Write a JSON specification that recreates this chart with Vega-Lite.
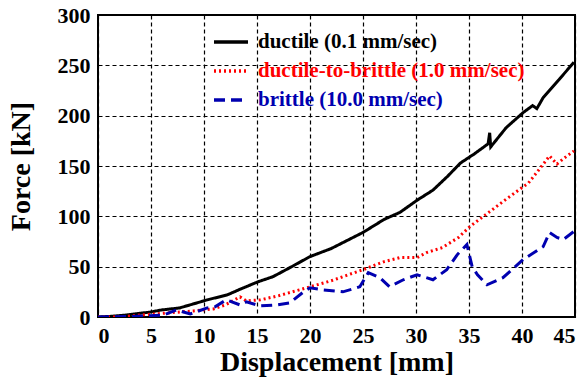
{
  "$schema": "https://vega.github.io/schema/vega-lite/v6.json",
  "width": 477,
  "height": 302,
  "autosize": "none",
  "padding": {"left": 98, "top": 15, "right": 13, "bottom": 63},
  "background": "white",
  "config": {
    "view": {"stroke": "black", "strokeWidth": 2},
    "font": "Liberation Serif",
    "axis": {
      "labelFont": "Liberation Serif", "labelFontWeight": "bold", "labelFontSize": 22, "labelColor": "black",
      "titleFont": "Liberation Serif", "titleFontWeight": "bold", "titleFontSize": 28, "titleColor": "black",
      "grid": true, "gridColor": "black", "gridDash": [4, 3], "gridWidth": 1.2, "gridOpacity": 1,
      "domain": false, "ticks": false
    },
    "legend": {"labelFont": "Liberation Serif", "labelFontWeight": "bold"}
  },
  "data": {"values": [
    {"s":"ductile (0.1 mm/sec)","i":0,"x":0,"y":0},
    {"s":"ductile (0.1 mm/sec)","i":1,"x":1,"y":0.5},
    {"s":"ductile (0.1 mm/sec)","i":2,"x":2.7,"y":2},
    {"s":"ductile (0.1 mm/sec)","i":3,"x":5,"y":5},
    {"s":"ductile (0.1 mm/sec)","i":4,"x":6,"y":7},
    {"s":"ductile (0.1 mm/sec)","i":5,"x":7.7,"y":9},
    {"s":"ductile (0.1 mm/sec)","i":6,"x":9,"y":13},
    {"s":"ductile (0.1 mm/sec)","i":7,"x":10.3,"y":17},
    {"s":"ductile (0.1 mm/sec)","i":8,"x":12.2,"y":22},
    {"s":"ductile (0.1 mm/sec)","i":9,"x":13.5,"y":28},
    {"s":"ductile (0.1 mm/sec)","i":10,"x":15.1,"y":35},
    {"s":"ductile (0.1 mm/sec)","i":11,"x":16.5,"y":40},
    {"s":"ductile (0.1 mm/sec)","i":12,"x":18.1,"y":49},
    {"s":"ductile (0.1 mm/sec)","i":13,"x":20,"y":60},
    {"s":"ductile (0.1 mm/sec)","i":14,"x":22,"y":68},
    {"s":"ductile (0.1 mm/sec)","i":15,"x":25,"y":84},
    {"s":"ductile (0.1 mm/sec)","i":16,"x":27,"y":97},
    {"s":"ductile (0.1 mm/sec)","i":17,"x":28.5,"y":104},
    {"s":"ductile (0.1 mm/sec)","i":18,"x":30.1,"y":116},
    {"s":"ductile (0.1 mm/sec)","i":19,"x":31.6,"y":126},
    {"s":"ductile (0.1 mm/sec)","i":20,"x":33,"y":140},
    {"s":"ductile (0.1 mm/sec)","i":21,"x":34.2,"y":153},
    {"s":"ductile (0.1 mm/sec)","i":22,"x":35.5,"y":162},
    {"s":"ductile (0.1 mm/sec)","i":23,"x":36.8,"y":172},
    {"s":"ductile (0.1 mm/sec)","i":24,"x":36.95,"y":183},
    {"s":"ductile (0.1 mm/sec)","i":25,"x":37.05,"y":169},
    {"s":"ductile (0.1 mm/sec)","i":26,"x":38.5,"y":188},
    {"s":"ductile (0.1 mm/sec)","i":27,"x":40.1,"y":203},
    {"s":"ductile (0.1 mm/sec)","i":28,"x":41,"y":210},
    {"s":"ductile (0.1 mm/sec)","i":29,"x":41.4,"y":207},
    {"s":"ductile (0.1 mm/sec)","i":30,"x":42,"y":218},
    {"s":"ductile (0.1 mm/sec)","i":31,"x":43.5,"y":236},
    {"s":"ductile (0.1 mm/sec)","i":32,"x":44.9,"y":253},
    {"s":"ductile-to-brittle (1.0 mm/sec)","i":0,"x":0,"y":0},
    {"s":"ductile-to-brittle (1.0 mm/sec)","i":1,"x":2.1,"y":0},
    {"s":"ductile-to-brittle (1.0 mm/sec)","i":2,"x":4,"y":2},
    {"s":"ductile-to-brittle (1.0 mm/sec)","i":3,"x":6.5,"y":4},
    {"s":"ductile-to-brittle (1.0 mm/sec)","i":4,"x":9,"y":6},
    {"s":"ductile-to-brittle (1.0 mm/sec)","i":5,"x":10.9,"y":8},
    {"s":"ductile-to-brittle (1.0 mm/sec)","i":6,"x":12,"y":12},
    {"s":"ductile-to-brittle (1.0 mm/sec)","i":7,"x":13.4,"y":20},
    {"s":"ductile-to-brittle (1.0 mm/sec)","i":8,"x":14,"y":16},
    {"s":"ductile-to-brittle (1.0 mm/sec)","i":9,"x":15.3,"y":17},
    {"s":"ductile-to-brittle (1.0 mm/sec)","i":10,"x":17,"y":21},
    {"s":"ductile-to-brittle (1.0 mm/sec)","i":11,"x":19,"y":27},
    {"s":"ductile-to-brittle (1.0 mm/sec)","i":12,"x":20,"y":30},
    {"s":"ductile-to-brittle (1.0 mm/sec)","i":13,"x":22,"y":36},
    {"s":"ductile-to-brittle (1.0 mm/sec)","i":14,"x":25,"y":47},
    {"s":"ductile-to-brittle (1.0 mm/sec)","i":15,"x":27,"y":55},
    {"s":"ductile-to-brittle (1.0 mm/sec)","i":16,"x":28.5,"y":59},
    {"s":"ductile-to-brittle (1.0 mm/sec)","i":17,"x":30.1,"y":59},
    {"s":"ductile-to-brittle (1.0 mm/sec)","i":18,"x":31,"y":64},
    {"s":"ductile-to-brittle (1.0 mm/sec)","i":19,"x":32.5,"y":69},
    {"s":"ductile-to-brittle (1.0 mm/sec)","i":20,"x":34,"y":79},
    {"s":"ductile-to-brittle (1.0 mm/sec)","i":21,"x":35.1,"y":90},
    {"s":"ductile-to-brittle (1.0 mm/sec)","i":22,"x":37,"y":105},
    {"s":"ductile-to-brittle (1.0 mm/sec)","i":23,"x":38.5,"y":117},
    {"s":"ductile-to-brittle (1.0 mm/sec)","i":24,"x":39.8,"y":127},
    {"s":"ductile-to-brittle (1.0 mm/sec)","i":25,"x":40.6,"y":133},
    {"s":"ductile-to-brittle (1.0 mm/sec)","i":26,"x":41.5,"y":145},
    {"s":"ductile-to-brittle (1.0 mm/sec)","i":27,"x":42.6,"y":160},
    {"s":"ductile-to-brittle (1.0 mm/sec)","i":28,"x":43.3,"y":152},
    {"s":"ductile-to-brittle (1.0 mm/sec)","i":29,"x":44,"y":158},
    {"s":"ductile-to-brittle (1.0 mm/sec)","i":30,"x":44.9,"y":165},
    {"s":"brittle (10.0 mm/sec)","i":0,"x":0,"y":0},
    {"s":"brittle (10.0 mm/sec)","i":1,"x":3,"y":0.5},
    {"s":"brittle (10.0 mm/sec)","i":2,"x":6.2,"y":2},
    {"s":"brittle (10.0 mm/sec)","i":3,"x":7.4,"y":7},
    {"s":"brittle (10.0 mm/sec)","i":4,"x":8.7,"y":3},
    {"s":"brittle (10.0 mm/sec)","i":5,"x":10.3,"y":9},
    {"s":"brittle (10.0 mm/sec)","i":6,"x":11,"y":10},
    {"s":"brittle (10.0 mm/sec)","i":7,"x":12.1,"y":17},
    {"s":"brittle (10.0 mm/sec)","i":8,"x":13.4,"y":12},
    {"s":"brittle (10.0 mm/sec)","i":9,"x":14,"y":15},
    {"s":"brittle (10.0 mm/sec)","i":10,"x":15.3,"y":11},
    {"s":"brittle (10.0 mm/sec)","i":11,"x":16.9,"y":12},
    {"s":"brittle (10.0 mm/sec)","i":12,"x":18.1,"y":14},
    {"s":"brittle (10.0 mm/sec)","i":13,"x":19.4,"y":25},
    {"s":"brittle (10.0 mm/sec)","i":14,"x":20,"y":29},
    {"s":"brittle (10.0 mm/sec)","i":15,"x":21.2,"y":27},
    {"s":"brittle (10.0 mm/sec)","i":16,"x":23.1,"y":25},
    {"s":"brittle (10.0 mm/sec)","i":17,"x":24.7,"y":30},
    {"s":"brittle (10.0 mm/sec)","i":18,"x":25.5,"y":44},
    {"s":"brittle (10.0 mm/sec)","i":19,"x":26.6,"y":39},
    {"s":"brittle (10.0 mm/sec)","i":20,"x":27.5,"y":30},
    {"s":"brittle (10.0 mm/sec)","i":21,"x":28.8,"y":37},
    {"s":"brittle (10.0 mm/sec)","i":22,"x":30.1,"y":42},
    {"s":"brittle (10.0 mm/sec)","i":23,"x":31.6,"y":37},
    {"s":"brittle (10.0 mm/sec)","i":24,"x":32.9,"y":47},
    {"s":"brittle (10.0 mm/sec)","i":25,"x":33.9,"y":62},
    {"s":"brittle (10.0 mm/sec)","i":26,"x":34.8,"y":72},
    {"s":"brittle (10.0 mm/sec)","i":27,"x":35.3,"y":50},
    {"s":"brittle (10.0 mm/sec)","i":28,"x":35.8,"y":42},
    {"s":"brittle (10.0 mm/sec)","i":29,"x":36.7,"y":32},
    {"s":"brittle (10.0 mm/sec)","i":30,"x":38.2,"y":39},
    {"s":"brittle (10.0 mm/sec)","i":31,"x":40.1,"y":57},
    {"s":"brittle (10.0 mm/sec)","i":32,"x":42,"y":70},
    {"s":"brittle (10.0 mm/sec)","i":33,"x":42.6,"y":84},
    {"s":"brittle (10.0 mm/sec)","i":34,"x":43.3,"y":79},
    {"s":"brittle (10.0 mm/sec)","i":35,"x":43.9,"y":77},
    {"s":"brittle (10.0 mm/sec)","i":36,"x":44.9,"y":85}
  ]},
  "mark": {"type": "line", "strokeWidth": 3, "clip": true},
  "encoding": {
    "x": {"field": "x", "type": "quantitative", "title": "Displacement [mm]",
          "scale": {"domain": [0, 45], "nice": false}, "axis": {"values": [0,5,10,15,20,25,30,35,40,45], "labelPadding": 8, "titlePadding": 2, "labelFont": "Liberation Serif", "labelFontWeight": "bold"}},
    "y": {"field": "y", "type": "quantitative", "title": "Force [kN]",
          "scale": {"domain": [0, 300], "nice": false}, "axis": {"values": [0,50,100,150,200,250,300], "labelPadding": 8, "titlePadding": 22, "labelFont": "Liberation Serif", "labelFontWeight": "bold"}},
    "order": {"field": "i", "type": "quantitative"},
    "color": {"field": "s", "type": "nominal",
      "scale": {"domain": ["ductile (0.1 mm/sec)", "ductile-to-brittle (1.0 mm/sec)", "brittle (10.0 mm/sec)"], "range": ["#000000", "#ff0000", "#0000b0"]},
      "legend": {"title": null, "orient": "none", "legendX": 114, "legendY": 8, "symbolType": "stroke", "symbolSize": 1156, "symbolStrokeWidth": 3.5,
        "labelFont": "Liberation Serif", "labelFontWeight": "bold", "labelFontSize": 21, "labelOffset": 8, "labelLimit": 0, "rowPadding": -8, "padding": 0,
        "encode": {"labels": {"update": {"fill": {"signal": "datum.label == 'ductile (0.1 mm/sec)' ? '#000000' : datum.label == 'brittle (10.0 mm/sec)' ? '#0000b0' : '#ff0000'"}}}}}},
    "strokeDash": {"field": "s", "type": "nominal",
      "scale": {"domain": ["ductile (0.1 mm/sec)", "ductile-to-brittle (1.0 mm/sec)", "brittle (10.0 mm/sec)"], "range": [[1, 0], [2, 3], [11, 6]]},
      "legend": null}
  }
}
